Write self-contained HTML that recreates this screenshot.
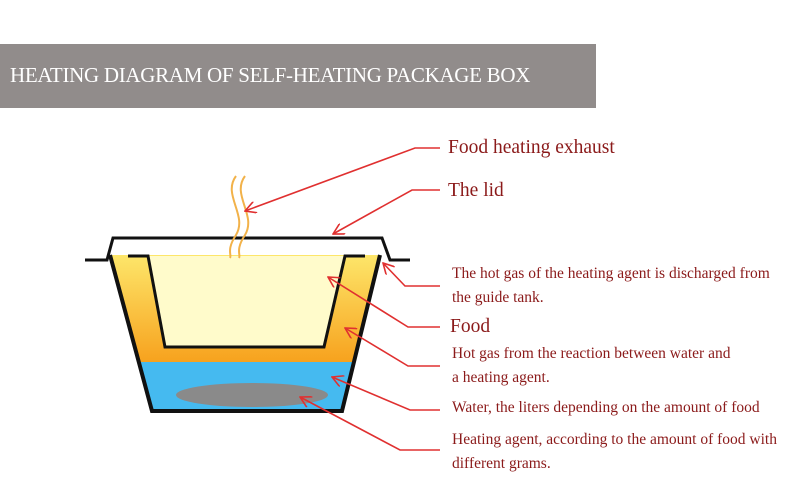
<!DOCTYPE html>
<html><head><meta charset="utf-8"><style>
body{margin:0;width:800px;height:500px;background:#fff;overflow:hidden;position:relative;font-family:"Liberation Serif",serif}
.ban{position:absolute;left:0;top:44px;width:596px;height:64px;background:#918c8b}
.ban span{position:absolute;left:10px;top:19px;color:#fff;font-size:21px;letter-spacing:-0.3px;white-space:nowrap}
.t{position:absolute;color:#8b1a1a;white-space:nowrap}
.b{font-size:19.5px}.s{font-size:15.5px;line-height:24px}
</style></head><body>
<div class="ban"><span>HEATING DIAGRAM OF SELF-HEATING PACKAGE BOX</span></div>
<svg width="800" height="500" style="position:absolute;left:0;top:0">
<defs>
<linearGradient id="g" x1="0" y1="0" x2="0" y2="1"><stop offset="0" stop-color="#fde66a"/><stop offset="1" stop-color="#f7a21e"/></linearGradient>
<marker id="a" markerWidth="12" markerHeight="12" refX="11" refY="6" orient="auto" markerUnits="userSpaceOnUse"><path d="M0,0 L11,6 L0,12" fill="none" stroke="#e03030" stroke-width="1.6"/></marker>
</defs>
<path d="M110,255 L380,255 L354,362 L139,362 Z" fill="url(#g)"/>
<path d="M139,362 L354,362 L342,410 L152,410 Z" fill="#45baf0"/>
<path d="M148,256 L165,347 L324,347 L345,256 Z" fill="#fffbcb"/>
<path d="M128,256 L148,256 L165,347 L324,347 L345,256 L365,256" fill="none" stroke="#111" stroke-width="3"/>
<path d="M110,255 L152,411 L342,411 L380,255" fill="none" stroke="#111" stroke-width="4"/>
<ellipse cx="252" cy="395" rx="76" ry="12" fill="#8a8a8a"/>
<path d="M85,260 L107,260 L113,238 L382,238 L390,260 L410,260" fill="none" stroke="#111" stroke-width="3"/>
<path d="M236,176 C222,195 248,215 236,235 C226,250 232,255 230,258" fill="none" stroke="#f2b24a" stroke-width="2"/>
<path d="M245,176 C231,195 257,215 245,235 C235,250 241,255 239,258" fill="none" stroke="#f2b24a" stroke-width="2"/>
<g stroke="#e03030" stroke-width="1.6" fill="none">
<path d="M440,148 L415,148 L245,211" marker-end="url(#a)"/>
<path d="M440,190 L412,190 L333,234" marker-end="url(#a)"/>
<path d="M440,286 L405,286 L383,263" marker-end="url(#a)"/>
<path d="M440,327 L408,327 L328,277" marker-end="url(#a)"/>
<path d="M440,366 L408,366 L345,328" marker-end="url(#a)"/>
<path d="M440,410 L410,410 L332,377" marker-end="url(#a)"/>
<path d="M440,450 L400,450 L300,397" marker-end="url(#a)"/>
</g>
</svg>
<div class="t b" style="left:448px;top:137px">Food heating exhaust</div>
<div class="t b" style="left:448px;top:180px">The lid</div>
<div class="t s" style="left:452px;top:262px">The hot gas of the heating agent is discharged from<br>the guide tank.</div>
<div class="t b" style="left:450px;top:316px">Food</div>
<div class="t s" style="left:452px;top:342px">Hot gas from the reaction between water and<br>a heating agent.</div>
<div class="t s" style="left:452px;top:396px">Water, the liters depending on the amount of food</div>
<div class="t s" style="left:452px;top:428px">Heating agent, according to the amount of food with<br>different grams.</div>
</body></html>
